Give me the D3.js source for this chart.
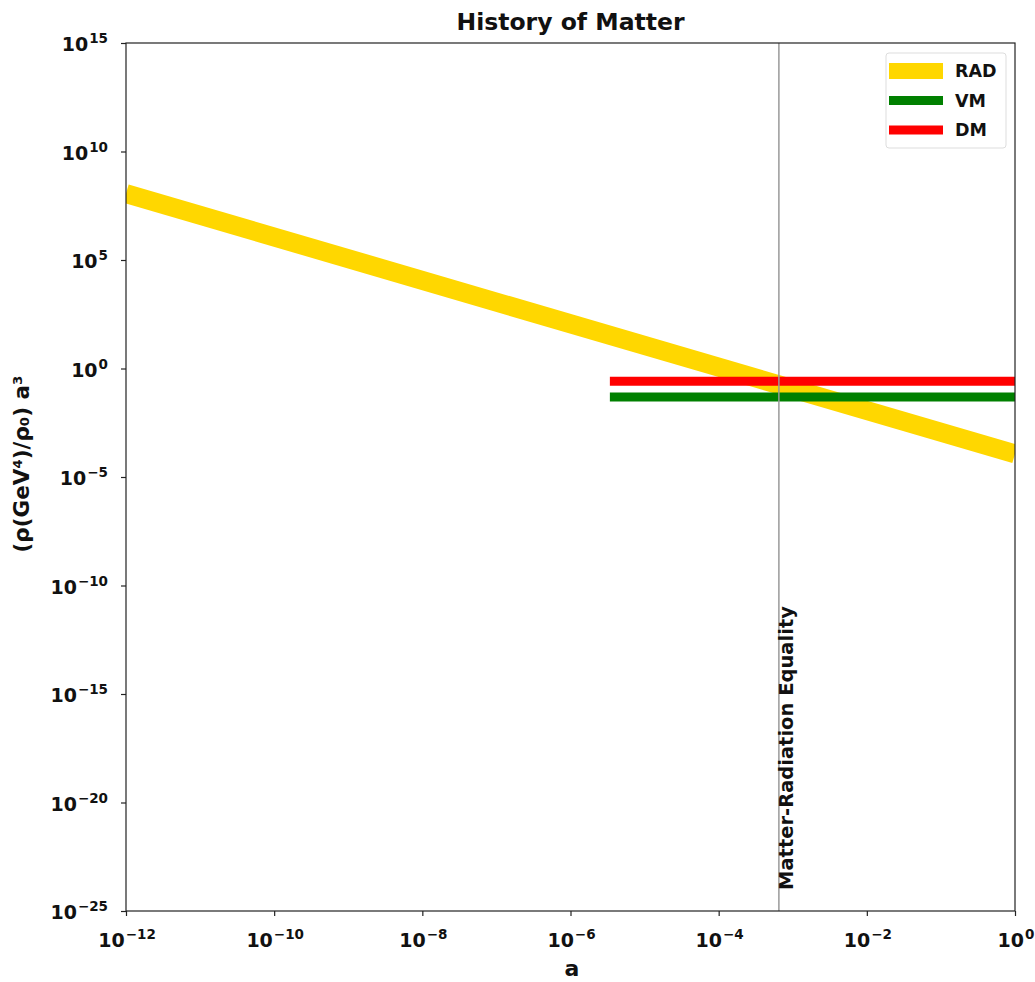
<!DOCTYPE html>
<html>
<head>
<meta charset="utf-8">
<script src="https://cdn.jsdelivr.net/npm/d3@7"></script>
<style>
  body { margin: 0; background: #fff; }
  text { font-family: "DejaVu Sans", sans-serif; font-weight: bold; fill: #111; }
</style>
</head>
<body>
<svg id="chart" width="1035" height="982"></svg>
<script>
// Scale-factor samples (endpoints are enough for straight lines on log-log axes)
const radA = [1e-12, 1e0];
const radValues = [1.15e-4 / 1e-12, 1.15e-4 / 1e0];   // radiation: rho a^3 ∝ 1/a
const matterA = [3.4e-6, 1e0];
const vmValues = [0.049, 0.049];                        // visible matter
const dmValues = [0.26, 0.26];                          // dark matter
const equalityA = 6.5e-4;

const xTickExps = [-12, -10, -8, -6, -4, -2, 0];
const yTickExps = [15, 10, 5, 0, -5, -10, -15, -20, -25];

const series = [
  { name: "RAD", a: radA, v: radValues, color: "#FFD700", width: 19 },
  { name: "VM", a: matterA, v: vmValues, color: "#008000", width: 9 },
  { name: "DM", a: matterA, v: dmValues, color: "#FF0000", width: 9 }
];

const m = { left: 126, right: 1015, top: 43, bottom: 911 };
const svg = d3.select("#chart");

const x = d3.scaleLog().domain([1e-12, 1e0]).range([m.left, m.right]);
const y = d3.scaleLog().domain([1e-25, 1e15]).range([m.bottom, m.top]);

// clip the data to the axes box
svg.append("defs").append("clipPath").attr("id", "plotclip")
  .append("rect").attr("x", m.left).attr("y", m.top)
  .attr("width", m.right - m.left).attr("height", m.bottom - m.top);

const plot = svg.append("g").attr("clip-path", "url(#plotclip)");
const line = d3.line().x(d => x(d[0])).y(d => y(d[1]));

series.forEach(s => {
  plot.append("path")
    .datum(s.a.map((a, i) => [a, s.v[i]]))
    .attr("d", line)
    .attr("fill", "none")
    .attr("stroke", s.color)
    .attr("stroke-width", s.width)
    .attr("stroke-linecap", "butt");
});

// matter-radiation equality marker
plot.append("line")
  .attr("x1", x(equalityA)).attr("x2", x(equalityA))
  .attr("y1", m.top).attr("y2", m.bottom)
  .attr("stroke", "#999").attr("stroke-width", 1.5);

svg.append("text")
  .attr("transform", `translate(${x(equalityA) + 14.5},890) rotate(-90)`)
  .attr("font-size", 19.5)
  .text("Matter-Radiation Equality");

// axes
const fmtPow = (sel, e) => {
  sel.text(null);
  sel.append("tspan").text("10");
  sel.append("tspan").attr("dy", -8).attr("dx", 1).attr("font-size", 13.5)
    .text(String(e).replace("-", "\u2212"));
};

const xAxis = d3.axisBottom(x).tickValues(xTickExps.map(e => Math.pow(10, e)))
  .tickSize(5).tickFormat("");
const gx = svg.append("g").attr("transform", `translate(0,${m.bottom})`).call(xAxis);
gx.select(".domain").remove();
gx.selectAll(".tick line").attr("stroke", "#222").attr("stroke-width", 1.2);
xTickExps.forEach(e => {
  const t = svg.append("text")
    .attr("x", x(Math.pow(10, e)) + 1).attr("y", 947)
    .attr("text-anchor", "middle").attr("font-size", 19);
  fmtPow(t, e);
});

const yAxis = d3.axisLeft(y).tickValues(yTickExps.map(e => Math.pow(10, e)))
  .tickSize(5).tickFormat("");
const gy = svg.append("g").attr("transform", `translate(${m.left},0)`).call(yAxis);
gy.select(".domain").remove();
gy.selectAll(".tick line").attr("stroke", "#222").attr("stroke-width", 1.2);
yTickExps.forEach(e => {
  const t = svg.append("text")
    .attr("x", 108).attr("y", y(Math.pow(10, e)) + 8)
    .attr("text-anchor", "end").attr("font-size", 19);
  fmtPow(t, e);
});

// frame
svg.append("rect")
  .attr("x", m.left).attr("y", m.top)
  .attr("width", m.right - m.left).attr("height", m.bottom - m.top)
  .attr("fill", "none").attr("stroke", "#222").attr("stroke-width", 1.2);

// titles
svg.append("text").attr("x", (m.left + m.right) / 2).attr("y", 30)
  .attr("text-anchor", "middle").attr("font-size", 23.5).text("History of Matter");
svg.append("text").attr("x", 572).attr("y", 976)
  .attr("text-anchor", "middle").attr("font-size", 22).text("a");
svg.append("text")
  .attr("transform", `translate(29,464) rotate(-90)`)
  .attr("text-anchor", "middle").attr("font-size", 21.5)
  .text("(\u03c1(GeV\u2074)/\u03c1\u2080) a\u00b3");

// legend
const lg = svg.append("g");
lg.append("rect").attr("x", 886).attr("y", 53).attr("width", 120).attr("height", 95)
  .attr("rx", 3).attr("fill", "#fff").attr("stroke", "#ddd").attr("stroke-width", 1);
series.forEach((s, i) => {
  const cy = 71 + i * 29.5;
  lg.append("line").attr("x1", 889).attr("x2", 943).attr("y1", cy).attr("y2", cy)
    .attr("stroke", s.color).attr("stroke-width", i === 0 ? 16 : 9);
  lg.append("text").attr("x", 955).attr("y", cy + 6).attr("font-size", 17.5).text(s.name);
});
</script>
</body>
</html>
